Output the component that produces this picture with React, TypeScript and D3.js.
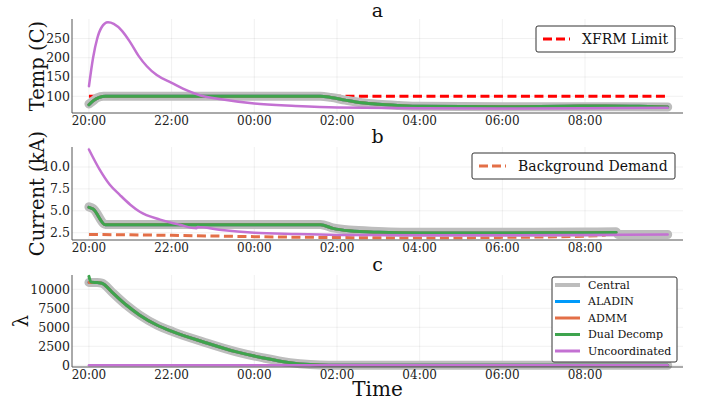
import React from 'react'
import * as d3 from 'd3'

type Pt = [number, number]

// hours after 20:00
const hourTicks = [0, 2, 4, 6, 8, 10, 12]
const hourLabels = ['20:00', '22:00', '00:00', '02:00', '04:00', '06:00', '08:00']

// panel a - transformer temperature (C)
const tempTicks = [100, 150, 200, 250]
const tempCentral: Pt[] = [[0, 80], [0.08, 86], [0.2, 96], [0.35, 100], [5.6, 100], [5.85, 97], [6.2, 90], [6.6, 83], [7, 79], [7.5, 76], [8, 74], [10, 73], [12, 73], [14, 72]]
const tempDual: Pt[] = [[0, 78], [0.1, 88], [0.25, 97], [0.4, 100], [5.6, 100], [5.85, 97], [6.2, 90], [6.6, 83], [7, 79], [7.5, 76], [8, 74], [10, 73], [11.5, 74], [12.5, 75], [13.3, 74], [14, 72]]
const tempUncoord: Pt[] = [[0, 126], [0.1, 200], [0.2, 250], [0.3, 278], [0.46, 292], [0.6, 288], [0.8, 270], [1.0, 240], [1.2, 205], [1.4, 178], [1.64, 155], [2.0, 135], [2.4, 114], [2.7, 102], [3.2, 92], [4.0, 81], [5, 75], [6, 71], [8, 69], [10, 68], [12, 69], [14, 70]]
const xfrmLimit: Pt[] = [[0, 100], [14, 100]]

// panel b - current (kA)
const currTicks = [2.5, 5.0, 7.5, 10.0]
const currCentral: Pt[] = [[0, 5.45], [0.1, 5.25], [0.4, 3.45], [5.6, 3.45], [5.9, 3.05], [6.3, 2.8], [7, 2.65], [8, 2.55], [10, 2.55], [12, 2.58], [12.75, 2.6], [12.8, 2.3], [14, 2.3]]
const currDual: Pt[] = [[0, 5.4], [0.1, 5.2], [0.4, 3.4], [5.6, 3.4], [5.9, 3.0], [6.3, 2.72], [7, 2.55], [8, 2.47], [10, 2.48], [12, 2.5], [12.75, 2.52]]
const currUncoord: Pt[] = [[0, 12.0], [0.26, 9.7], [0.5, 8.0], [0.75, 6.8], [1.0, 5.7], [1.23, 4.9], [1.72, 4.0], [2.2, 3.4], [2.6, 3.0], [2.63, 3.15], [3.15, 2.85], [4, 2.5], [5, 2.35], [6, 2.25], [8, 2.2], [10, 2.2], [12, 2.25], [14, 2.3]]
const backgroundDemand: Pt[] = [[0, 2.3], [2, 2.2], [4, 2.05], [6, 1.95], [8, 1.92], [10, 1.97], [12, 2.1], [12.5, 2.2]]

// panel c - lambda
const lamTicks = [0, 2500, 5000, 7500, 10000]
const lamCentral: Pt[] = [[0, 10900], [0.2, 10880], [0.31, 10800], [0.59, 9450], [0.91, 7900], [1.23, 6600], [1.64, 5300], [2.04, 4400], [2.77, 3070], [3.57, 1760], [4.22, 970], [4.86, 350], [5.35, 90], [5.8, 0], [14, 0]]
const lamDual: Pt[] = [[0, 11700], [0.05, 10950], [0.2, 10880], [0.31, 10800], [0.59, 9450], [0.91, 7900], [1.23, 6600], [1.64, 5300], [2.04, 4400], [2.77, 3070], [3.57, 1760], [4.22, 970], [4.86, 350], [5.35, 90], [5.8, 0], [14, 0]]
const lamUncoord: Pt[] = [[0, 0], [14, 0]]

const colors = {
  central: '#bdbdbd',
  aladin: '#009AFA',
  admm: '#E36F47',
  dual: '#3EA44E',
  uncoord: '#C371D2',
  limit: '#ff0000',
}

const legendItems = [
  { label: 'Central', color: colors.central, w: 4 },
  { label: 'ALADIN', color: colors.aladin, w: 3 },
  { label: 'ADMM', color: colors.admm, w: 3 },
  { label: 'Dual Decomp', color: colors.dual, w: 3 },
  { label: 'Uncoordinated', color: colors.uncoord, w: 3 },
]

const font = 'DejaVu Serif'
const left = 72
const right = 683

const x = d3.scaleLinear().domain([-0.41, 14.37]).range([left, right])

type Series = { data: Pt[]; color: string; width: number; dash?: string }

function Panel(props: {
  top: number
  bottom: number
  domain: [number, number]
  ticks: number[]
  fmt: (v: number) => string
  title: string
  titleY: number
  ylabel: string
  ylabelX: number
  series: Series[]
}) {
  const { top, bottom, domain, ticks, fmt, title, titleY, ylabel, ylabelX, series } = props
  const y = d3.scaleLinear().domain(domain).range([bottom, top])
  const line = d3.line<Pt>().x(d => x(d[0])).y(d => y(d[1])).curve(d3.curveMonotoneX)
  const mid = (top + bottom) / 2
  return (
    <g>
      {hourTicks.map(h => (
        <line key={'gx' + h} x1={x(h)} x2={x(h)} y1={top} y2={bottom} stroke="#000" strokeOpacity={0.08} strokeWidth={0.8} />
      ))}
      {ticks.map(t => (
        <line key={'gy' + t} x1={left} x2={right} y1={y(t)} y2={y(t)} stroke="#000" strokeOpacity={0.08} strokeWidth={0.8} />
      ))}
      {series.map((s, i) => (
        <path key={i} d={line(s.data) || ''} fill="none" stroke={s.color} strokeWidth={s.width}
          strokeDasharray={s.dash} strokeLinecap={s.dash ? 'butt' : 'round'} strokeLinejoin="round" />
      ))}
      <line x1={left} x2={left} y1={top} y2={bottom} stroke="#555" strokeWidth={1} />
      <line x1={left} x2={right} y1={bottom} y2={bottom} stroke="#555" strokeWidth={1} />
      {ticks.map(t => (
        <text key={'ty' + t} x={left - 2} y={y(t)} dy="0.35em" textAnchor="end" fontSize={12.5} fontFamily={font} fill="#222">{fmt(t)}</text>
      ))}
      {hourTicks.map((h, i) => (
        <text key={'tx' + h} x={x(h)} y={bottom + 12} textAnchor="middle" fontSize={12} fontFamily={font} fill="#222">{hourLabels[i]}</text>
      ))}
      <text x={(left + right) / 2} y={titleY} textAnchor="middle" fontSize={19} fontFamily={font} fill="#111">{title}</text>
      <text transform={`translate(${ylabelX},${mid}) rotate(-90)`} textAnchor="middle" fontSize={19.5} fontFamily={font} fill="#111">{ylabel}</text>
    </g>
  )
}

function SmallLegend(props: { x: number; y: number; w: number; label: string; color: string }) {
  const { x: lx, y: ly, w, label, color } = props
  return (
    <g>
      <rect x={lx} y={ly} width={w} height={26} rx={2} fill="#fff" stroke="#333" strokeWidth={1} />
      <line x1={lx + 7} x2={lx + 34} y1={ly + 13} y2={ly + 13} stroke={color} strokeWidth={3} strokeDasharray="9,4" />
      <text x={lx + 46} y={ly + 13} dy="0.35em" fontSize={14} fontFamily={font} fill="#111">{label}</text>
    </g>
  )
}

export default function App() {
  return (
    <svg width={702} height={407} style={{ position: 'absolute', left: 0, top: 0, background: '#fff' }}>
      <Panel top={19} bottom={113} domain={[56.5, 300.7]} ticks={tempTicks} fmt={v => String(v)}
        title="a" titleY={17} ylabel="Temp (C)" ylabelX={44}
        series={[
          { data: xfrmLimit, color: colors.limit, width: 3, dash: '9,4.5' },
          { data: tempCentral, color: colors.central, width: 9 },
          { data: tempDual, color: colors.aladin, width: 3 },
          { data: tempDual, color: colors.admm, width: 3 },
          { data: tempDual, color: colors.dual, width: 3 },
          { data: tempUncoord, color: colors.uncoord, width: 2.5 },
        ]} />
      <Panel top={147} bottom={240} domain={[1.67, 12.28]} ticks={currTicks} fmt={v => v.toFixed(1)}
        title="b" titleY={143} ylabel="Current (kA)" ylabelX={44}
        series={[
          { data: backgroundDemand, color: colors.admm, width: 3, dash: '9,4.5' },
          { data: currCentral, color: colors.central, width: 9 },
          { data: currDual, color: colors.aladin, width: 3 },
          { data: currDual, color: colors.admm, width: 3 },
          { data: currDual, color: colors.dual, width: 3 },
          { data: currUncoord, color: colors.uncoord, width: 2.5 },
        ]} />
      <Panel top={275} bottom={367} domain={[-224, 11880]} ticks={lamTicks} fmt={v => String(v)}
        title="c" titleY={271} ylabel="λ" ylabelX={28}
        series={[
          { data: lamCentral, color: colors.central, width: 9 },
          { data: lamCentral, color: colors.aladin, width: 3 },
          { data: lamCentral, color: colors.admm, width: 3 },
          { data: lamDual, color: colors.dual, width: 3 },
          { data: lamUncoord, color: colors.uncoord, width: 2.5 },
        ]} />
      <SmallLegend x={536} y={26} w={139} label="XFRM Limit" color={colors.limit} />
      <SmallLegend x={472} y={153} w={203} label="Background Demand" color={colors.admm} />
      <g>
        <rect x={552} y={277} width={125} height={85} rx={2} fill="#fff" stroke="#333" strokeWidth={1} />
        {legendItems.map((it, i) => (
          <g key={it.label}>
            <line x1={555} x2={580} y1={285 + i * 16.5} y2={285 + i * 16.5} stroke={it.color} strokeWidth={it.w} />
            <text x={588} y={285 + i * 16.5} dy="0.35em" fontSize={11} fontFamily={font} fill="#111">{it.label}</text>
          </g>
        ))}
      </g>
      <text x={(left + right) / 2} y={396} textAnchor="middle" fontSize={20} fontFamily={font} fill="#111">Time</text>
    </svg>
  )
}
